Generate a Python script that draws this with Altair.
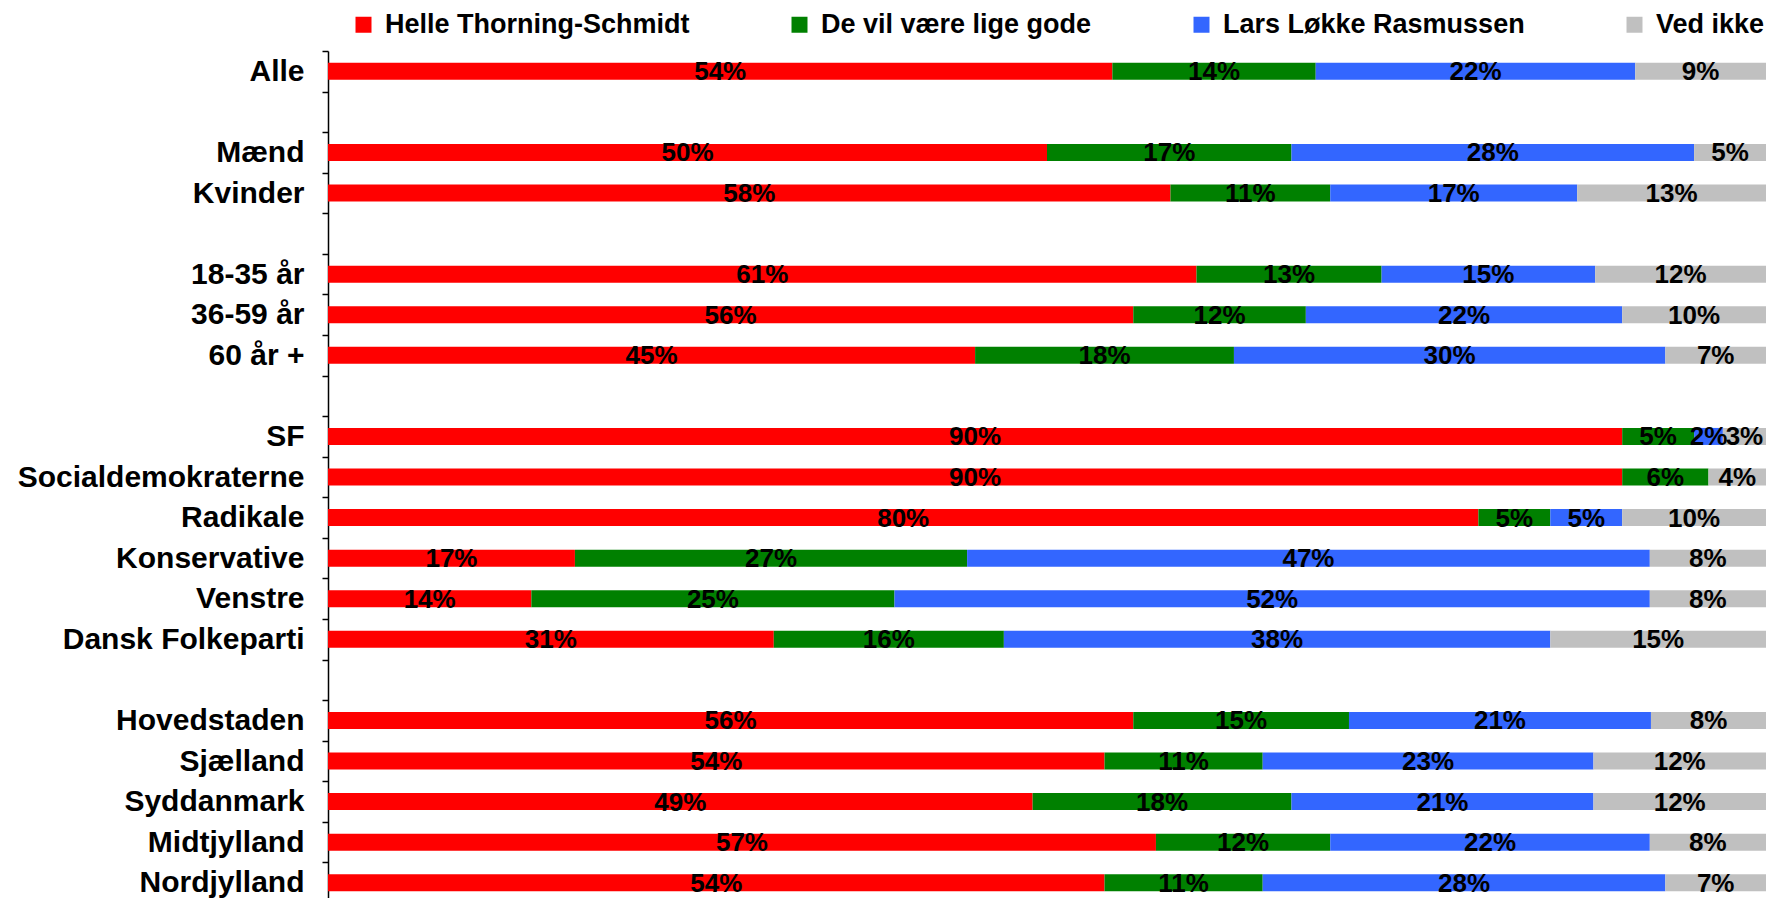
import altair as alt
import pandas as pd

categories = ["Alle", "_b1", "Mænd", "Kvinder", "_b2", "18-35 år", "36-59 år", "60 år +",
              "_b3", "SF", "Socialdemokraterne", "Radikale", "Konservative", "Venstre",
              "Dansk Folkeparti", "_b4", "Hovedstaden", "Sjælland", "Syddanmark",
              "Midtjylland", "Nordjylland"]
series = ["Helle Thorning-Schmidt", "De vil være lige gode", "Lars Løkke Rasmussen", "Ved ikke"]
colors = ["#FF0000", "#008000", "#3366FF", "#C0C0C0"]

helle   = [54, None, 50, 58, None, 61, 56, 45, None, 90, 90, 80, 17, 14, 31, None, 56, 54, 49, 57, 54]
lige    = [14, None, 17, 11, None, 13, 12, 18, None, 5, 6, 5, 27, 25, 16, None, 15, 11, 18, 12, 11]
lars    = [22, None, 28, 17, None, 15, 22, 30, None, 2, 0, 5, 47, 52, 38, None, 21, 23, 21, 22, 28]
vedikke = [9, None, 5, 13, None, 12, 10, 7, None, 3, 4, 10, 8, 8, 15, None, 8, 12, 12, 8, 7]

rows = []
for i, cat in enumerate(categories):
    for k, vals in enumerate([helle, lige, lars, vedikke]):
        if vals[i] is None:
            continue
        rows.append({"cat": cat, "series": series[k], "order": k, "value": vals[i]})
df = pd.DataFrame(rows)

FONT = "Liberation Sans"

base = alt.Chart(df).transform_stack(
    stack="value", as_=["x0", "x1"], groupby=["cat"],
    sort=[alt.SortField("order", "ascending")], offset="normalize"
).transform_calculate(
    mid="(datum.x0 + datum.x1) / 2", label="datum.value + '%'"
)

yenc = alt.Y(
    "cat:N",
    scale=alt.Scale(domain=categories, paddingInner=0, paddingOuter=0, range=[0, 852]),
    axis=alt.Axis(
        title=None,
        labelExpr="indexof(datum.label, '_b') === 0 ? '' : datum.label",
        tickBand="extent",
        domainColor="black", domainWidth=1.5,
        tickColor="black", tickWidth=1.5, tickSize=6,
        labelFont=FONT, labelFontSize=30, labelFontWeight="bold", labelColor="black",
        labelPadding=18, labelLimit=400,
    ),
)

bars = base.mark_bar(size=17).encode(
    x=alt.X("x0:Q", scale=alt.Scale(domain=[0, 1]), axis=None),
    x2="x1:Q",
    y=yenc,
    color=alt.Color(
        "series:N",
        scale=alt.Scale(domain=series, range=colors),
        legend=alt.Legend(
            title=None, orient="none", direction="horizontal",
            legendX=22, legendY=-40, padding=0,
            symbolType="square", symbolSize=256, symbolStrokeWidth=0,
            labelFont=FONT, labelFontSize=27, labelFontWeight="bold", labelColor="black",
            labelOffset=8, columnPadding=96, labelLimit=500,
        ),
    ),
    order=alt.Order("order:Q"),
)

texts = base.transform_filter("datum.value > 0").mark_text(
    font=FONT, fontSize=26, fontWeight="bold", color="black", baseline="middle", dy=1
).encode(
    x=alt.X("mid:Q", scale=alt.Scale(domain=[0, 1]), axis=None),
    y=yenc,
    text="label:N",
)

chart = alt.layer(bars, texts).properties(
    width=1438, height=847,
    padding={"left": 320, "top": 43, "right": 0, "bottom": 0},
    autosize=alt.AutoSizeParams(type="none"),
).configure_view(stroke=None)

chart.save("out.html", embed_options={"renderer": "svg", "actions": False})
